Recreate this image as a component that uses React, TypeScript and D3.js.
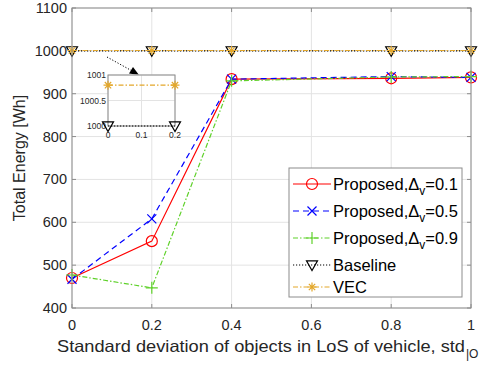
import React from "react";
import * as d3 from "d3";

const xs = [0, 0.2, 0.4, 0.8, 1];
const prop01 = [470, 556, 934, 936, 938];
const prop05 = [467, 608, 934, 940, 938];
const prop09 = [477, 447, 930, 939, 940];
const baseline = [1000, 1000, 1000, 1000, 1000];
const vec = [1000.8, 1000.8, 1000.8, 1000.8, 1000.8];

const xTicks = [0, 0.2, 0.4, 0.6, 0.8, 1];
const yTicks = [400, 500, 600, 700, 800, 900, 1000, 1100];
const insetXTicks = [0, 0.1, 0.2];
const insetYTicks = [1000, 1000.5, 1001];

const FONT = "Liberation Sans, Arial, sans-serif";
const TXT = "#262626";
const GRID = "#e3e3e3";
const AX = "#8c8c8c";

type Series = { name: string; sub?: string; val: string; values: number[]; color: string; dash: string; marker: string };

const series: Series[] = [
  { name: "Proposed,", sub: "v", val: "=0.1", values: prop01, color: "#ff0000", dash: "", marker: "circle" },
  { name: "Proposed,", sub: "v", val: "=0.5", values: prop05, color: "#0000ff", dash: "6,4", marker: "x" },
  { name: "Proposed,", sub: "v", val: "=0.9", values: prop09, color: "#5fd12a", dash: "5,2,1.5,2", marker: "plus" },
  { name: "Baseline", values: baseline, color: "#000000", dash: "1.2,1.8", marker: "tri" },
  { name: "VEC", values: vec, color: "#e3a72a", dash: "5,2,1.5,2", marker: "star" },
];

function Marker({ type, x, y, color, s = 1 }: { type: string; x: number; y: number; color: string; s?: number }) {
  const sw = 1.2;
  if (type === "circle") return <circle cx={x} cy={y} r={5.5 * s} fill="none" stroke={color} strokeWidth={sw} />;
  if (type === "x") {
    const r = 4.5 * s;
    return <path d={`M${x - r},${y - r}L${x + r},${y + r}M${x - r},${y + r}L${x + r},${y - r}`} stroke={color} strokeWidth={sw} />;
  }
  if (type === "plus") {
    const r = 6 * s;
    return <path d={`M${x - r},${y}L${x + r},${y}M${x},${y - r}L${x},${y + r}`} stroke={color} strokeWidth={sw} />;
  }
  if (type === "tri") {
    const r = 5.5 * s;
    return <path d={`M${x - r},${y - r * 0.75}L${x + r},${y - r * 0.75}L${x},${y + r}Z`} fill="none" stroke={color} strokeWidth={sw} />;
  }
  const r = 4.5 * s;
  const d = r * 0.707;
  return (
    <path
      d={`M${x - r},${y}L${x + r},${y}M${x},${y - r}L${x},${y + r}M${x - d},${y - d}L${x + d},${y + d}M${x - d},${y + d}L${x + d},${y - d}`}
      stroke={color}
      strokeWidth={sw}
    />
  );
}

export default function App() {
  const W = 484, H = 369;
  const left = 72, right = 471, top = 8, bottom = 308;
  const x = d3.scaleLinear().domain([0, 1]).range([left, right]);
  const y = d3.scaleLinear().domain([400, 1100]).range([bottom, top]);

  const ix = d3.scaleLinear().domain([0, 0.2]).range([108, 175]);
  const iy = d3.scaleLinear().domain([1000, 1001]).range([126, 75]);

  const line = (sx: d3.ScaleLinear<number, number>, sy: d3.ScaleLinear<number, number>) =>
    d3.line<number>().x((_, i) => sx(xs[i])).y((v) => sy(v));

  const lg = { x: 289, y: 168, w: 173, h: 129 };
  const rowY = [184, 211, 238, 265, 287];

  return (
    <svg width={W} height={H} style={{ position: "absolute", left: 0, top: 0, background: "#fff" }}>
      <rect x={0} y={0} width={W} height={H} fill="#fff" />
      {/* grid */}
      {xTicks.map((t) => (
        <line key={"gx" + t} x1={x(t)} x2={x(t)} y1={top} y2={bottom} stroke={GRID} />
      ))}
      {yTicks.map((t) => (
        <line key={"gy" + t} x1={left} x2={right} y1={y(t)} y2={y(t)} stroke={GRID} />
      ))}
      {/* ticks */}
      {xTicks.map((t) => (
        <g key={"tx" + t}>
          <line x1={x(t)} x2={x(t)} y1={bottom} y2={bottom - 4} stroke={AX} />
          <line x1={x(t)} x2={x(t)} y1={top} y2={top + 4} stroke={AX} />
          <text x={x(t)} y={330} textAnchor="middle" fontFamily={FONT} fontSize={14.5} fill={TXT}>
            {d3.format("")(t)}
          </text>
        </g>
      ))}
      {yTicks.map((t) => (
        <g key={"ty" + t}>
          <line x1={left} x2={left + 4} y1={y(t)} y2={y(t)} stroke={AX} />
          <line x1={right} x2={right - 4} y1={y(t)} y2={y(t)} stroke={AX} />
          <text x={left - 5} y={y(t) + 5} textAnchor="end" fontFamily={FONT} fontSize={14.5} fill={TXT}>
            {t}
          </text>
        </g>
      ))}
      {/* series */}
      {series.map((s) => (
        <g key={s.name + s.val}>
          <path d={line(x, y)(s.values) || ""} fill="none" stroke={s.color} strokeWidth={1.2} strokeDasharray={s.dash} />
          {s.values.map((v, i) => (
            <Marker key={i} type={s.marker} x={x(xs[i])} y={y(v)} color={s.color} />
          ))}
        </g>
      ))}
      <rect x={left} y={top} width={right - left} height={bottom - top} fill="none" stroke={AX} />

      {/* arrow */}
      <line x1={107} y1={57} x2={134} y2={72} stroke="#000" strokeWidth={1} strokeDasharray="1.2,1.8" />
      <path d="M139,75L129,73.5L133,67Z" fill="#000" />

      {/* inset */}
      <rect x={ix(0)} y={iy(1001)} width={ix(0.2) - ix(0)} height={iy(1000) - iy(1001)} fill="#fff" />
      {insetXTicks.map((t) => (
        <line key={"igx" + t} x1={ix(t)} x2={ix(t)} y1={iy(1001)} y2={iy(1000)} stroke={GRID} />
      ))}
      {insetYTicks.map((t) => (
        <line key={"igy" + t} x1={ix(0)} x2={ix(0.2)} y1={iy(t)} y2={iy(t)} stroke={GRID} />
      ))}
      <rect x={ix(0)} y={iy(1001)} width={ix(0.2) - ix(0)} height={iy(1000) - iy(1001)} fill="none" stroke={AX} />
      {insetXTicks.map((t) => (
        <text key={"ixl" + t} x={ix(t)} y={iy(1000) + 12} textAnchor="middle" fontFamily={FONT} fontSize={8.5} fill={TXT}>
          {t}
        </text>
      ))}
      {insetYTicks.map((t) => (
        <text key={"iyl" + t} x={ix(0) - 2} y={iy(t) + 3} textAnchor="end" fontFamily={FONT} fontSize={8.5} fill={TXT}>
          {t}
        </text>
      ))}
      {series.slice(3).map((s) => {
        const vals = s.values.slice(0, 2);
        return (
          <g key={"in" + s.name}>
            <path
              d={d3.line<number>().x((_, i) => ix(xs[i])).y((v) => iy(v))(vals) || ""}
              fill="none"
              stroke={s.color}
              strokeWidth={1.2}
              strokeDasharray={s.dash}
            />
            {vals.map((v, i) => (
              <Marker key={i} type={s.marker} x={ix(xs[i])} y={iy(v)} color={s.color} />
            ))}
          </g>
        );
      })}

      {/* legend */}
      <rect x={lg.x} y={lg.y} width={lg.w} height={lg.h} fill="#fff" stroke={AX} />
      {series.map((s, i) => (
        <g key={"lg" + i}>
          <line x1={lg.x + 4} x2={lg.x + 42} y1={rowY[i]} y2={rowY[i]} stroke={s.color} strokeWidth={1.2} strokeDasharray={s.dash} />
          <Marker type={s.marker} x={lg.x + 23} y={rowY[i]} color={s.color} />
          <text x={lg.x + 44} y={rowY[i] + 6} fontFamily={FONT} fontSize={16.5} fill="#000">
            {s.name}
            {s.sub ? (
              <>
                <tspan>Δ</tspan>
                <tspan fontSize={12} dy={5}>
                  {s.sub}
                </tspan>
                <tspan dy={-5}>{s.val}</tspan>
              </>
            ) : null}
          </text>
        </g>
      ))}

      {/* axis labels */}
      <text x={57} y={352} fontFamily={FONT} fontSize={16.5} fill={TXT} textLength={408} lengthAdjust="spacingAndGlyphs">
        Standard deviation of objects in LoS of vehicle, std
      </text>
      <text x={466} y={358} fontFamily={FONT} fontSize={12} fill={TXT}>
        |O
      </text>
      <text
        transform={`translate(25,${(top + bottom) / 2}) rotate(-90)`}
        textAnchor="middle"
        fontFamily={FONT}
        fontSize={16}
        fill={TXT}
      >
        Total Energy [Wh]
      </text>
    </svg>
  );
}
